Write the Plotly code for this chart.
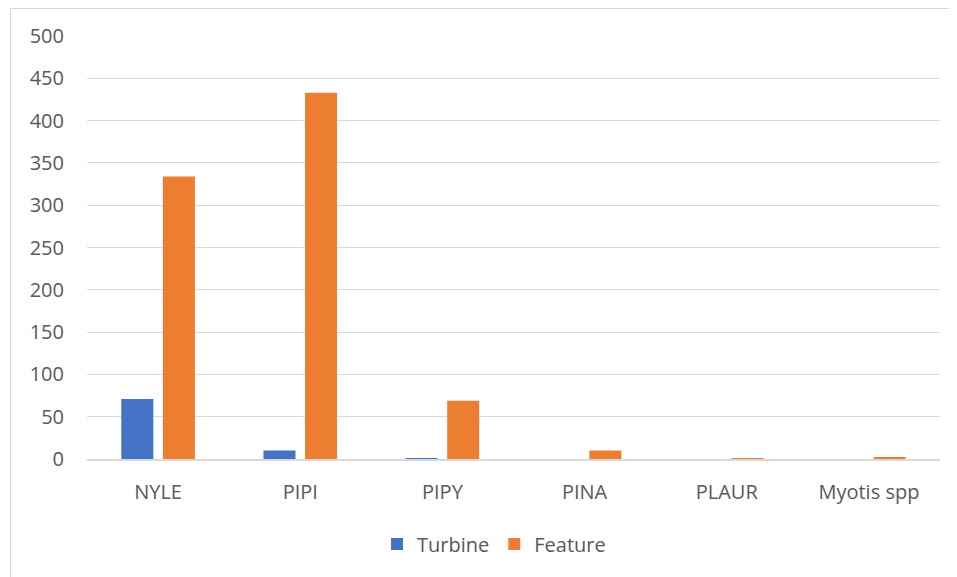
import plotly.graph_objects as go

categories = ["NYLE", "PIPI", "PIPY", "PINA", "PLAUR", "Myotis spp"]
turbine = [71, 10, 0.5, 0, 0, 0]
feature = [334, 433, 69, 10, 0.5, 2]
y_ticks = [0, 50, 100, 150, 200, 250, 300, 350, 400, 450, 500]

OFF = 8  # page body margin
W, H = 957 - OFF, 577 - OFF
L, R, T, B = 87 - OFF, 17, 36 - OFF, 118
pw, ph = W - L - R, H - T - B

def px(x):
    return (x - OFF - L) / pw

def py(y):
    return (H - B - (y - OFF)) / ph

fig = go.Figure()
fig.add_trace(go.Bar(name="Turbine", x=categories, y=turbine,
                     marker=dict(color="#4472C4", line=dict(width=0))))
fig.add_trace(go.Bar(name="Feature", x=categories, y=feature,
                     marker=dict(color="#ED7D31", line=dict(width=0))))

fig.update_layout(
    width=W, height=H,
    margin=dict(l=L, r=R, t=T, b=B),
    paper_bgcolor="white", plot_bgcolor="white",
    barmode="group", bargap=0.415, bargroupgap=0.23,
    font=dict(family="Open Sans, Liberation Sans, sans-serif", size=20, color="#595959"),
    xaxis=dict(showgrid=False, showline=True, linecolor="#D9D9D9", linewidth=1.5,
               ticks="", ticklabelstandoff=14, tickfont=dict(size=20, color="#595959")),
    yaxis=dict(range=[0, 500], tickvals=y_ticks, showgrid=True, gridcolor="#D9D9D9",
               gridwidth=1, zeroline=False, showline=False, ticks="",
               ticklabelstandoff=22,
               tickfont=dict(size=20, color="#595959")),
    legend=dict(orientation="h", x=px(494), xanchor="center", y=py(544), yanchor="middle",
                font=dict(size=20, color="#595959"), itemwidth=30, traceorder="normal"),
    shapes=[
        dict(type="line", xref="paper", yref="paper", x0=px(10.5), x1=px(10.5),
             y0=py(8.5), y1=py(600), line=dict(color="#D9D9D9", width=1)),
        dict(type="line", xref="paper", yref="paper", x0=px(10.5), x1=px(1000),
             y0=py(8.5), y1=py(8.5), line=dict(color="#D9D9D9", width=1)),
    ],
)

fig.write_html("out.html")
